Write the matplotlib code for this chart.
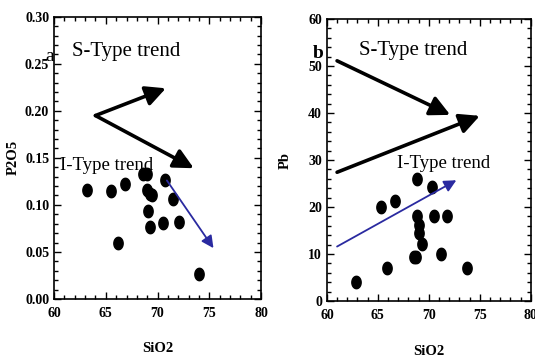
import numpy as np
import matplotlib
matplotlib.use('Agg')
import matplotlib.pyplot as plt
from matplotlib.path import Path
from matplotlib.ticker import MultipleLocator

plt.rcParams['font.family'] = 'Liberation Serif'

# panel a : P2O5 vs SiO2
sio2_a = [63.2, 65.5, 66.9, 68.6, 69.0, 69.0, 69.3, 69.5, 69.1, 69.3, 70.7, 70.5, 71.5, 72.1, 66.2, 74.0]
p2o5 = [0.116, 0.115, 0.122, 0.133, 0.133, 0.116, 0.112, 0.110, 0.093, 0.077, 0.127, 0.081, 0.106, 0.082, 0.059, 0.026]

# panel b : Pb vs SiO2
sio2_b = [62.9, 65.9, 65.3, 66.7, 68.8, 70.3, 68.8, 69.0, 69.0, 69.3, 68.5, 68.7, 70.5, 71.8, 71.2, 73.7]
pb = [4.1, 7.1, 20.1, 21.3, 26.0, 24.2, 18.2, 16.2, 14.4, 12.1, 9.3, 9.3, 18.1, 18.1, 10.1, 7.1]

# elliptic marker (a bit taller than wide)
t = np.linspace(0, 2*np.pi, 40)
ell = Path(np.column_stack([0.75*np.cos(t), np.sin(t)]), closed=True)

fig = plt.figure(figsize=(5.35, 3.58), dpi=100)
ax1 = fig.add_axes([0.101, 0.165, 0.387, 0.788])
ax2 = fig.add_axes([0.611, 0.159, 0.381, 0.788])

def style(ax):
    ax.tick_params(which='both', direction='in', top=True, right=True, labelsize=10, width=1)
    ax.tick_params(which='major', length=5)
    ax.tick_params(which='minor', length=3)
    ax.tick_params(axis='x', pad=6)
    ax.xaxis.set_major_locator(MultipleLocator(5))
    ax.xaxis.set_minor_locator(MultipleLocator(1))
    for lab in ax.get_xticklabels() + ax.get_yticklabels():
        lab.set_fontweight('bold')
    for s in ax.spines.values():
        s.set_linewidth(1.2)
    ax.set_xlabel('SiO2', fontsize=10.5, fontweight='bold', labelpad=16)

black_arrow = dict(arrowstyle='-|>', lw=2.6, color='black', mutation_scale=30, shrinkA=0, shrinkB=0)
blue_arrow = dict(arrowstyle='-|>', lw=1.3, color='#2a2aa0', mutation_scale=18, shrinkA=0, shrinkB=0)

# ---- a
ax1.set_xlim(60, 80)
ax1.set_ylim(0, 0.30)
ax1.yaxis.set_major_locator(MultipleLocator(0.05))
ax1.yaxis.set_minor_locator(MultipleLocator(0.01))
ax1.set_yticks(np.arange(0, 0.31, 0.05))
ax1.set_yticklabels(['0.00', '0.05', '0.10', '0.15', '0.20', '0.25', '0.30'])
ax1.scatter(sio2_a, p2o5, marker=ell, s=80, color='black', zorder=3)
ax1.annotate('', xy=(70.8, 0.224), xytext=(64.0, 0.195), arrowprops=black_arrow)
ax1.annotate('', xy=(73.5, 0.139), xytext=(64.0, 0.195), arrowprops=black_arrow)
ax1.annotate('', xy=(75.4, 0.054), xytext=(70.9, 0.126), arrowprops=blue_arrow)
ax1.text(59.2, 0.258, 'a', fontsize=14, va='center')
ax1.text(61.7, 0.263, 'S-Type trend', fontsize=15, va='center')
ax1.text(60.6, 0.142, 'I-Type trend', fontsize=13.5, va='center')
ax1.set_ylabel('P2O5', fontsize=10.5, fontweight='bold', labelpad=4)
style(ax1)

# ---- b
ax2.set_xlim(60, 80)
ax2.set_ylim(0, 60)
ax2.yaxis.set_major_locator(MultipleLocator(10))
ax2.yaxis.set_minor_locator(MultipleLocator(2))
ax2.scatter(sio2_b, pb, marker=ell, s=80, color='black', zorder=3)
ax2.annotate('', xy=(72.1, 39.6), xytext=(61.0, 51.1), arrowprops=black_arrow)
ax2.annotate('', xy=(75.0, 39.4), xytext=(61.0, 27.4), arrowprops=black_arrow)
ax2.annotate('', xy=(72.7, 25.7), xytext=(61.0, 11.6), arrowprops=blue_arrow)
ax2.text(58.6, 52.7, 'b', fontsize=14, fontweight='bold', va='center')
ax2.text(63.2, 53.2, 'S-Type trend', fontsize=15, va='center')
ax2.text(66.9, 29.3, 'I-Type trend', fontsize=13.5, va='center')
ax2.set_ylabel('Pb', fontsize=10.5, fontweight='bold', labelpad=12)
style(ax2)

fig.savefig('out.png', dpi=100)
